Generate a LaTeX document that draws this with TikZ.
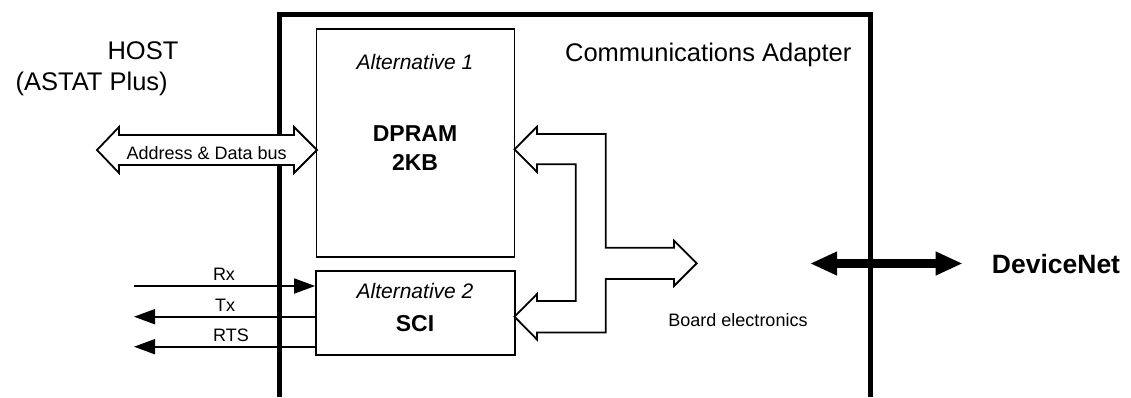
\documentclass[tikz,border=0pt]{standalone}
\usepackage{fontspec}
\setmainfont{Liberation Sans}
\usetikzlibrary{arrows.meta,positioning,calc}
\tikzset{
  blk/.style={draw, line width=1.8pt, inner sep=0pt},
  lbl/.style={anchor=base, inner sep=0pt, font=\fontsize{25.5}{30}\selectfont},
  alt/.style={anchor=base, inner sep=0pt, font=\fontsize{21}{25}\selectfont\itshape},
  big/.style={anchor=base, inner sep=0pt, font=\fontsize{23}{27}\selectfont\bfseries},
  netl/.style={anchor=base, inner sep=0pt, font=\fontsize{26.5}{31}\selectfont\bfseries},
  sml/.style={anchor=base, inner sep=0pt, font=\fontsize{18}{21}\selectfont},
  sig/.style={line width=1.8pt, -{Triangle[length=21pt,width=15pt]}},
  wall/.style={line width=5pt},
  fat/.style={draw, line width=1.8pt, fill=white, line join=miter},
  net/.style={line width=9pt, {Triangle[length=27pt,width=22pt]}-{Triangle[length=27pt,width=22pt]}},
}
\begin{document}
\begin{tikzpicture}[x=1pt, y=-1pt]
  \useasboundingbox (0,0) rectangle (1131,397);
  \node[blk, minimum width=198pt, minimum height=228pt] (dpram) at (415.5,143) {};
  \node[blk, minimum width=199pt, minimum height=84pt]  (sci)   at (415.5,313) {};

  \coordinate (adbl) at (279.5,397);
  \coordinate (adtl) at (279.5,14);
  \coordinate (adtr) at (870.5,14);
  \coordinate (adbr) at (870.5,397);
  \draw[wall] (adbl) -- (adtl) -- (adtr) -- (adbr);

  \coordinate (rxin)  at (134,286);
  \coordinate (txout) at (134,316.7);
  \coordinate (rtsout) at (134,346.7);
  \draw[sig] (rxin) -- (rxin -| sci.west);
  \draw[sig] (txout -| sci.west) -- (txout);
  \draw[sig] (rtsout -| sci.west) -- (rtsout);
  \node[sml] (rxl)  at (224,280)   {Rx};
  \node[sml] (txl)  at (225,311.7) {Tx};
  \node[sml] (rtsl) at (231,341)   {RTS};

  \draw[fat] (97,150) -- (119,127) -- (119,135) -- (294,135) -- (294,127) -- (317,150)
    -- (294,173) -- (294,165) -- (119,165) -- (119,173) -- cycle;
  \node[sml] (busl) at (206.7,159.3) {Address \& Data bus};

  \draw[fat] (514.5,149.3) -- (537,126.7) -- (537,134) -- (605.7,134) -- (605.7,247.7)
    -- (674,247.7) -- (674,240.7) -- (696.7,263.3) -- (674,286) -- (674,279)
    -- (605.7,279) -- (605.7,332.5) -- (537,332.5) -- (537,339.5) -- (514.5,316.7)
    -- (537,294) -- (537,301) -- (575.7,301) -- (575.7,164.3) -- (537,164.3)
    -- (537,172) -- cycle;
  \node[sml] (board) at (738,326) {Board electronics};

  \coordinate (dnl) at (810,263.5);
  \coordinate (dnr) at (962.7,263.5);
  \draw[net] (dnl) -- (dnr);
  \node[netl] (dnet) at (1056,273.3) {DeviceNet};

  \node[lbl] (host)    at (143,59.3)   {HOST};
  \node[lbl] (astat)   at (91.7,90)    {(ASTAT Plus)};
  \node[lbl] (adapter) at (708.3,61.7) {Communications Adapter};
  \node[alt] (alt1) at (415,69)    {Alternative 1};
  \node[big] (dpl)  at (415,141.7) {DPRAM};
  \node[big] (kbl)  at (415,170)   {2KB};
  \node[alt] (alt2) at (415,298.3) {Alternative 2};
  \node[big] (scil) at (415,331.7) {SCI};
\end{tikzpicture}
\end{document}
